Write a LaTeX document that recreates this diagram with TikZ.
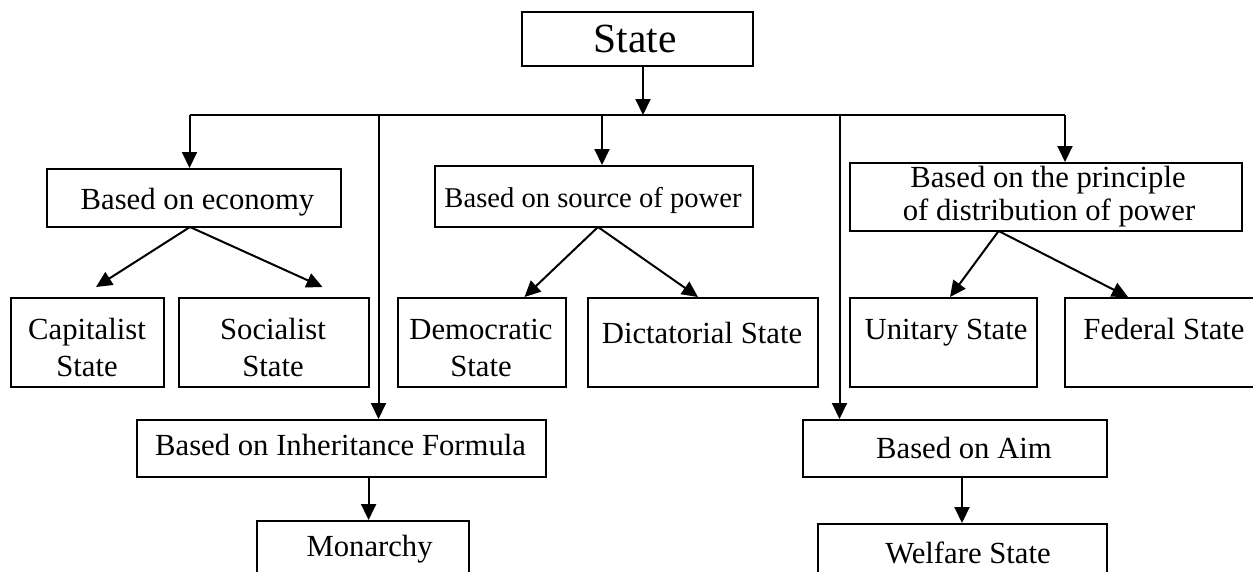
\documentclass[tikz,border=0pt]{standalone}
\usepackage{fontspec}
\setmainfont{Liberation Serif}
\usetikzlibrary{arrows.meta}
\begin{document}
\begin{tikzpicture}[x=1pt,y=-1pt,
  box/.style n args={2}{draw,line width=2pt,inner sep=0pt,minimum width=#1,minimum height=#2},
  txt/.style={anchor=base,inner sep=0pt,font=\fontsize{30.7}{37}\selectfont},
  smalltxt/.style={anchor=base,inner sep=0pt,font=\fontsize{28.6}{34}\selectfont},
  bigtxt/.style={anchor=base,inner sep=0pt,font=\fontsize{41.5}{48}\selectfont},
  ln/.style={line width=2pt},
  arr/.style={line width=2pt,-{Triangle[length=16pt,width=15pt]}}]
\useasboundingbox (0,0) rectangle (1253,571);
\fill[white] (0,0) rectangle (1253,571);
\clip (0,0) rectangle (1253,571);

% boxes
\node[box={231pt}{54pt}] (state) at (637.5,39) {};
\node[box={294pt}{58pt}] (econ) at (194,198) {};
\node[box={318pt}{61pt}] (source) at (594,196.5) {};
\node[box={392pt}{68pt}] (princ) at (1046,197) {};
\node[box={153pt}{89pt}] (cap) at (87.5,342.5) {};
\node[box={190pt}{89pt}] (soc) at (274,342.5) {};
\node[box={168pt}{89pt}] (dem) at (482,342.5) {};
\node[box={230pt}{89pt}] (dict) at (702.5,342.5) {};
\node[box={187pt}{89pt}] (uni) at (943.5,342.5) {};
\node[box={235pt}{89pt}] (fed) at (1182.5,342.5) {};
\node[box={408.6pt}{57pt}] (inh) at (341.3,448.5) {};
\node[box={211.5pt}{79pt}] (mon) at (362.75,560.5) {};
\node[box={303.5pt}{57pt}] (aim) at (954.75,448.5) {};
\node[box={289pt}{76pt}] (wel) at (962,562) {};

% texts
\node[bigtxt] (tstate) at (635,52) {State};
\node[txt] (tecon) at (197.5,209) {Based on economy};
\node[smalltxt] (tsource) at (593,207.5) {Based on source of power};
\node[txt] (tprinc1) at (1048,187) {Based on the principle};
\node[txt] (tprinc2) at (1049,220.7) {of distribution of power};
\node[txt] (tcap1) at (87,339) {Capitalist};
\node[txt] (tcap2) at (87,376.7) {State};
\node[txt] (tsoc1) at (273,339) {Socialist};
\node[txt] (tsoc2) at (273,376.7) {State};
\node[txt] (tdem1) at (481,339) {Democratic};
\node[txt] (tdem2) at (481,376.7) {State};
\node[txt] (tdict) at (702,343) {Dictatorial State};
\node[txt] (tuni) at (946,339) {Unitary State};
\node[txt] (tfed) at (1164,339) {Federal State};
\node[txt] (tinh) at (340.6,455.7) {Based on Inheritance Formula};
\node[txt] (tmon) at (369.6,556.7) {Monarchy};
\node[txt] (taim) at (964,458) {Based on Aim};
\node[txt] (twel) at (968,563) {Welfare State};

% bus coordinates
\coordinate (sx) at (643,115);
\coordinate (busL) at (189.5,115);
\coordinate (busR) at (1065,115);
\coordinate (b2) at (378.5,115);
\coordinate (b3) at (602,115);
\coordinate (b4) at (839.5,115);

\draw[arr] (state.south -| sx) -- (sx);
\draw[ln] (busL) -- (busR);
\draw[arr] (busL) -- (busL |- econ.north);
\draw[arr] (b2) -- (b2 |- inh.north);
\draw[arr] (b3) -- (b3 |- source.north);
\draw[arr] (b4) -- (b4 |- aim.north);
\draw[arr] (busR) -- (busR |- princ.north);

% children arrows
\coordinate (econS) at (190,227);
\coordinate (capT) at (96,287);
\coordinate (socT) at (322.5,287);
\draw[arr] (econS) -- (capT);
\draw[arr] (econS) -- (socT);

\coordinate (srcS) at (598,227);
\coordinate (demT) at (524.5,297);
\coordinate (dictT) at (698,297);
\draw[arr] (srcS) -- (demT);
\draw[arr] (srcS) -- (dictT);

\coordinate (prS) at (998.6,231);
\coordinate (uniT) at (950,297);
\coordinate (fedT) at (1128,297);
\draw[arr] (prS) -- (uniT);
\draw[arr] (prS) -- (fedT);

\coordinate (inhS) at (368.6,477);
\draw[arr] (inhS) -- (inhS |- mon.north);
\coordinate (aimS) at (962,477);
\draw[arr] (aimS) -- (aimS |- wel.north);
\end{tikzpicture}
\end{document}
